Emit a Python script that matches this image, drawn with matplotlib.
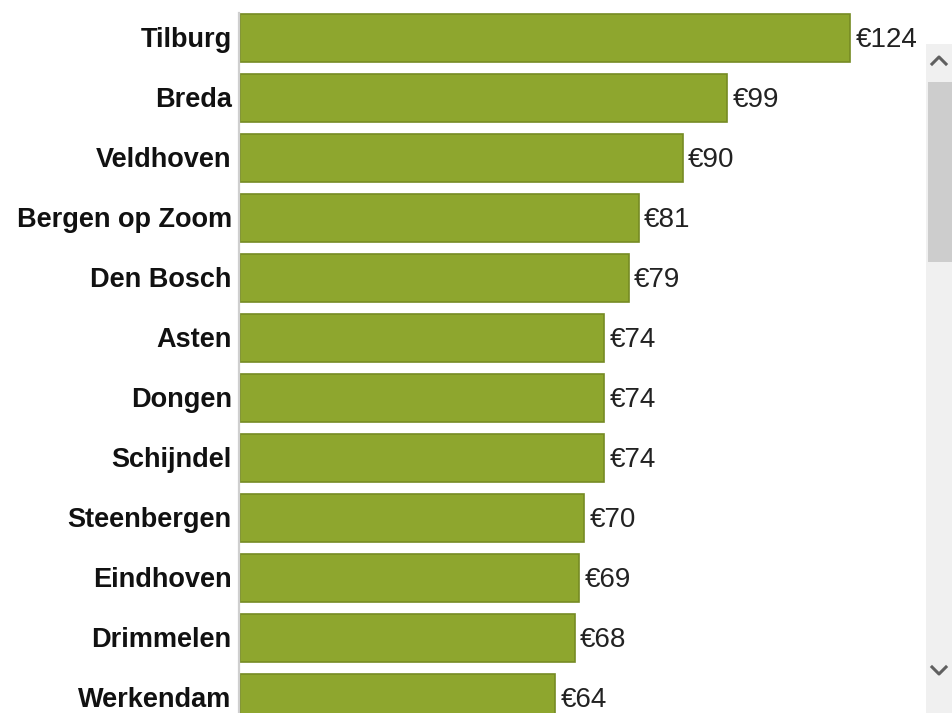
import matplotlib.pyplot as plt
from matplotlib.patches import Rectangle
from matplotlib.lines import Line2D

cities = ["Tilburg", "Breda", "Veldhoven", "Bergen op Zoom", "Den Bosch", "Asten",
          "Dongen", "Schijndel", "Steenbergen", "Eindhoven", "Drimmelen", "Werkendam"]
amounts = [124, 99, 90, 81, 79, 74, 74, 74, 70, 69, 68, 64]

BAR_COLOR = "#8ea62e"
EDGE_COLOR = "#768b24"

plt.rcParams["font.family"] = ["Liberation Sans", "DejaVu Sans"]

W, H = 952, 713
fig = plt.figure(figsize=(W / 100, H / 100), dpi=100)

# axes from x=240px to x=926px, full height
ax = fig.add_axes([240 / W, 0, 686 / W, 1])
px_per_unit = 4.92
ax.set_xlim(0, 686 / px_per_unit)
# row centers at 38px + 60px * i
ax.set_ylim((H - 38) / 60, -38 / 60)

ax.barh(range(len(cities)), amounts, height=0.8, color=BAR_COLOR,
        edgecolor=EDGE_COLOR, linewidth=1.2)

for i, (city, val) in enumerate(zip(cities, amounts)):
    ax.text(-1.7, i + 0.03, city, ha="right", va="center", fontsize=19.5,
            fontweight="bold", color="#111111")
    ax.text(val + 1.1, i + 0.03, f"\u20ac{val}", ha="left", va="center",
            fontsize=20, color="#222222")

for s in ax.spines.values():
    s.set_visible(False)
ax.set_xticks([])
ax.set_yticks([])

# left axis line
fig.add_artist(Line2D([238.5 / W, 238.5 / W], [0, 1 - 13 / H],
                      color="#cfcfcf", linewidth=1.6))

# scrollbar
fig.add_artist(Rectangle((926 / W, 0), 26 / W, 1 - 44 / H,
                         transform=fig.transFigure, color="#f0f0f0", lw=0))
fig.add_artist(Rectangle((928 / W, 1 - 262 / H), 24 / W, 180 / H,
                         transform=fig.transFigure, color="#cdcdcd", lw=0))
fig.add_artist(Line2D([932 / W, 939 / W, 946 / W],
                      [1 - 64 / H, 1 - 57 / H, 1 - 64 / H],
                      color="#606060", linewidth=2.2))
fig.add_artist(Line2D([932 / W, 939 / W, 946 / W],
                      [1 - 667 / H, 1 - 674 / H, 1 - 667 / H],
                      color="#606060", linewidth=2.2))

fig.savefig("out.png", dpi=100)
